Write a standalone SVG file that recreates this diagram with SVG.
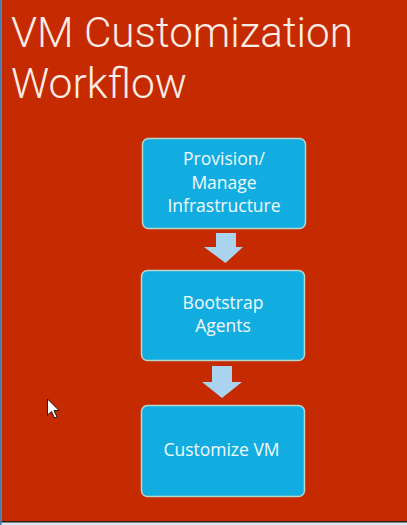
<svg xmlns="http://www.w3.org/2000/svg" width="407" height="525" viewBox="0 0 407 525">
  <style>
    .title { font-family: Roboto, "Open Sans", "Liberation Sans", sans-serif; font-weight: 300; font-size: 43px; fill: #FBEDE6; }
    .box { fill: #12ADE0; stroke: #B9D6CC; stroke-width: 1.5; }
    .lbl { font-family: "Open Sans", "Liberation Sans", sans-serif; font-size: 17.5px; fill: #F2FAFD; text-anchor: middle; }
    .arrow { fill: #A9D3EE; }
  </style>
  <rect x="0" y="0" width="407" height="525" fill="#DCE6F0"/>
  <rect x="0" y="0" width="1.5" height="525" fill="#4A78A8"/>
  <rect x="1.5" y="0" width="405.5" height="522" fill="#C52A00"/>
  <rect x="1.5" y="521" width="405.5" height="1.5" fill="#2A2020"/>

  <text class="title" x="11" y="47" textLength="342" lengthAdjust="spacingAndGlyphs">VM Customization</text>
  <text class="title" x="11" y="98" textLength="176" lengthAdjust="spacingAndGlyphs">Workflow</text>

  <g id="connectors">
    <polygon class="arrow" points="216,233 236,233 236,247 243,247 225.5,263 204,247 216,247"/>
    <polygon class="arrow" points="212,366 232,366 232,382 242,382 222,398 202,382 212,382"/>
  </g>

  <g id="node-provision">
    <rect class="box" x="142.5" y="138.5" width="163" height="90" rx="6"/>
    <text class="lbl" x="224" y="165">Provision/</text>
    <text class="lbl" x="224" y="189">Manage</text>
    <text class="lbl" x="224" y="212">Infrastructure</text>
  </g>

  <g id="node-bootstrap">
    <rect class="box" x="141.5" y="270.5" width="163" height="90" rx="6"/>
    <text class="lbl" x="223" y="309">Bootstrap</text>
    <text class="lbl" x="223" y="332">Agents</text>
  </g>

  <g id="node-customize">
    <rect class="box" x="141.5" y="405.5" width="163" height="91" rx="6"/>
    <text class="lbl" x="221.5" y="456">Customize VM</text>
  </g>

  <polygon points="47.5,399 47.5,415 51.5,411.5 54.5,418 57,417 54,410.5 59,410.5" fill="#FFFFFF" stroke="#000000" stroke-width="0.8" stroke-linejoin="round"/>
</svg>
